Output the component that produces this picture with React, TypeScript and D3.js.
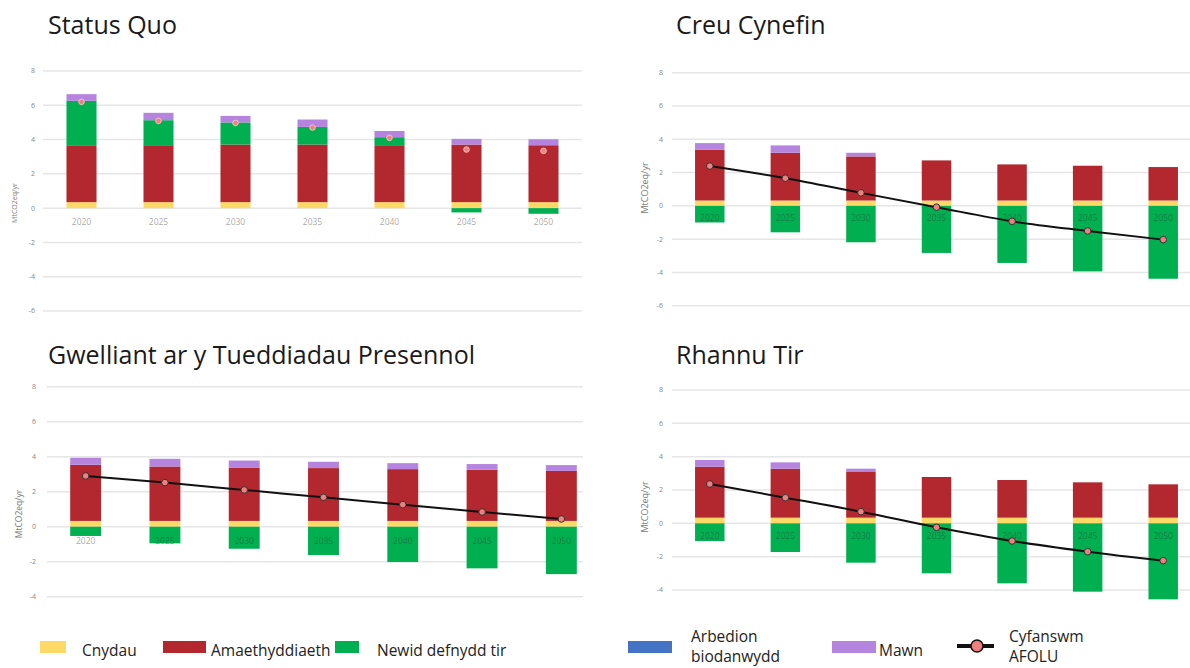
import React from "react";
import * as d3 from "d3";

// years on the x axis
const years = ["2020", "2025", "2030", "2035", "2040", "2045", "2050"];

// series keys in stacking order
const seriesKeys = ["cnydau", "amaeth", "newid", "biodanwydd", "mawn"];
const seriesNames = ["Cnydau", "Amaethyddiaeth", "Newid defnydd tir", "Arbedion biodanwydd", "Mawn"];
const seriesColors = ["#ffd966", "#b2282e", "#00b050", "#4472c4", "#b484de"];
const totalName = "Cyfanswm AFOLU";

// Status Quo
const sqCnydau = [0.35, 0.35, 0.35, 0.35, 0.35, 0.35, 0.35];
const sqAmaeth = [3.28, 3.32, 3.36, 3.36, 3.32, 3.36, 3.32];
const sqNewid = [2.63, 1.46, 1.29, 1.03, 0.47, -0.25, -0.33];
const sqBio = [0, 0, 0, 0, 0, 0, 0];
const sqMawn = [0.39, 0.43, 0.38, 0.43, 0.36, 0.33, 0.35];
const sqTotal = [6.2, 5.09, 4.97, 4.7, 4.1, 3.42, 3.34];

// Creu Cynefin
const ccCnydau = [0.32, 0.32, 0.32, 0.32, 0.32, 0.32, 0.32];
const ccAmaeth = [3.05, 2.87, 2.65, 2.41, 2.17, 2.09, 2.01];
const ccNewid = [-1.0, -1.59, -2.19, -2.83, -3.43, -3.94, -4.38];
const ccBio = [0, 0, 0, 0, 0, 0, 0];
const ccMawn = [0.4, 0.44, 0.22, 0, 0, 0, 0];
const ccTotal = [2.39, 1.66, 0.78, -0.08, -0.93, -1.51, -2.03];

// Gwelliant ar y Tueddiadau Presennol
const gwCnydau = [0.33, 0.33, 0.33, 0.33, 0.33, 0.33, 0.33];
const gwAmaeth = [3.21, 3.11, 3.05, 3.02, 2.96, 2.92, 2.86];
const gwNewid = [-0.53, -0.95, -1.26, -1.62, -2.02, -2.38, -2.71];
const gwBio = [0, 0, 0, 0, 0, 0, 0];
const gwMawn = [0.4, 0.44, 0.4, 0.36, 0.34, 0.33, 0.33];
const gwTotal = [2.9, 2.52, 2.1, 1.68, 1.26, 0.84, 0.44];

// Rhannu Tir
const rtCnydau = [0.34, 0.34, 0.34, 0.34, 0.34, 0.34, 0.34];
const rtAmaeth = [3.06, 2.94, 2.74, 2.44, 2.26, 2.12, 2.0];
const rtNewid = [-1.06, -1.72, -2.36, -3.0, -3.6, -4.1, -4.56];
const rtBio = [0, 0, 0, 0, 0, 0, 0];
const rtMawn = [0.4, 0.38, 0.2, 0, 0, 0, 0];
const rtTotal = [2.36, 1.54, 0.7, -0.24, -1.06, -1.7, -2.24];

const ticksTop = [-6, -4, -2, 0, 2, 4, 6, 8];
const ticksBottom = [-4, -2, 0, 2, 4, 6, 8];

const FONT = "'Open Sans', sans-serif";

function buildRows(cols: number[][]) {
  return years.map((y, i) => {
    const row: any = { year: y };
    seriesKeys.forEach((k, j) => (row[k] = cols[j][i]));
    return row;
  });
}

const panels = [
  {
    title: "Status Quo", tx: 48, ty: 34,
    rows: buildRows([sqCnydau, sqAmaeth, sqNewid, sqBio, sqMawn]), total: sqTotal,
    ticks: ticksTop, yRange: [311, 71], xRange: [43, 582], grid: [43, 582],
    tickX: 35, lab: [15, 203, 7], yearY: 225, line: false,
  },
  {
    title: "Creu Cynefin", tx: 676, ty: 34,
    rows: buildRows([ccCnydau, ccAmaeth, ccNewid, ccBio, ccMawn]), total: ccTotal,
    ticks: ticksTop, yRange: [305.7, 72.7], xRange: [672, 1201], grid: [672, 1190],
    tickX: 663, lab: [645, 188, 9], yearY: 221, line: true,
  },
  {
    title: "Gwelliant ar y Tueddiadau Presennol", tx: 48, ty: 364,
    rows: buildRows([gwCnydau, gwAmaeth, gwNewid, gwBio, gwMawn]), total: gwTotal,
    ticks: ticksBottom, yRange: [596.7, 386.7], xRange: [46, 601], grid: [47, 583],
    tickX: 36, lab: [19, 514, 8.5], yearY: 544, line: true,
  },
  {
    title: "Rhannu Tir", tx: 676, ty: 364,
    rows: buildRows([rtCnydau, rtAmaeth, rtNewid, rtBio, rtMawn]), total: rtTotal,
    ticks: ticksBottom, yRange: [590, 390], xRange: [672, 1201], grid: [672, 1190],
    tickX: 663, lab: [645, 507, 9], yearY: 539, line: true,
  },
];

function Panel({ p }: { p: any }) {
  const y = d3.scaleLinear().domain([p.ticks[0], 8]).range(p.yRange);
  const x = d3.scaleBand().domain(years).range(p.xRange).paddingInner(0.61).paddingOuter(0.305);
  const stack = d3.stack().keys(seriesKeys).offset(d3.stackOffsetDiverging)(p.rows);
  const cx = (i: number) => (x(years[i]) as number) + x.bandwidth() / 2;
  const line = d3
    .line<number>()
    .x((_, i) => cx(i))
    .y((d) => y(d))
    .curve(d3.curveMonotoneX);

  return (
    <g>
      <text x={p.tx} y={p.ty} fontSize={25} fill="#1a1a1a" fontFamily={FONT}>
        {p.title}
      </text>
      {p.ticks.map((t: number) => (
        <g key={t}>
          <line x1={p.grid[0]} x2={p.grid[1]} y1={y(t)} y2={y(t)} stroke="#e6e6e6" strokeWidth={1.5} />
          <text x={p.tickX} y={y(t)} dy="0.35em" textAnchor="end" fontSize={7} fill="#888" fontFamily={FONT}>
            {t}
          </text>
        </g>
      ))}
      <text
        transform={`translate(${p.lab[0]},${p.lab[1]}) rotate(-90)`}
        textAnchor="middle"
        dy="0.35em"
        fontSize={p.lab[2]}
        fill="#777"
        fontFamily={FONT}
      >
        MtCO2eq/yr
      </text>
      {stack.map((s, j) => (
        <g key={seriesKeys[j]} fill={seriesColors[j]}>
          {s.map((d, i) => (
            <rect
              key={i}
              x={x(years[i])}
              width={x.bandwidth()}
              y={y(Math.max(d[0], d[1]))}
              height={Math.abs(y(d[0]) - y(d[1]))}
            />
          ))}
        </g>
      ))}
      {years.map((yr, i) => (
        <text key={yr} x={cx(i)} y={p.yearY} textAnchor="middle" fontSize={8.5} fill="#333" fillOpacity={0.45} fontFamily={FONT}>
          {yr}
        </text>
      ))}
      {p.line && <path d={line(p.total) as string} fill="none" stroke="#111" strokeWidth={2} />}
      {p.total.map((v: number, i: number) => (
        <circle
          key={i}
          cx={cx(i)}
          cy={y(v)}
          r={p.line ? 3.3 : 2.8}
          fill="#f08080"
          stroke={p.line ? "#333" : "#fbd0d0"}
          strokeWidth={p.line ? 1 : 0.8}
        />
      ))}
    </g>
  );
}

// legend layout
const legendSwatch = [
  [40, 66],
  [163, 206],
  [335, 359],
  [628, 672],
  [832, 876],
];
const legendTextX = [82, 211, 377, 691, 879];

function Legend() {
  return (
    <g fontFamily={FONT} fontSize={15.5} fill="#222">
      {seriesNames.map((name, i) => {
        const words = name.split(" ");
        const twoLine = i === 3;
        return (
          <g key={name}>
            <rect x={legendSwatch[i][0]} y={641} width={legendSwatch[i][1] - legendSwatch[i][0]} height={12} fill={seriesColors[i]} />
            {twoLine ? (
              <text x={legendTextX[i]} y={642}>
                <tspan x={legendTextX[i]}>{words[0]}</tspan>
                <tspan x={legendTextX[i]} dy={20}>{words[1]}</tspan>
              </text>
            ) : (
              <text x={legendTextX[i]} y={656}>{name}</text>
            )}
          </g>
        );
      })}
      <line x1={957} x2={994} y1={646} y2={646} stroke="#111" strokeWidth={4} />
      <circle cx={977} cy={646} r={6} fill="#f08080" stroke="#111" strokeWidth={1.5} />
      <text x={1009} y={642}>
        <tspan x={1009}>{totalName.split(" ")[0]}</tspan>
        <tspan x={1009} dy={20}>{totalName.split(" ")[1]}</tspan>
      </text>
    </g>
  );
}

export default function App() {
  return (
    <svg width={1190} height={668} style={{ position: "absolute", left: 0, top: 0, background: "#fff" }}>
      {panels.map((p) => (
        <Panel key={p.title} p={p} />
      ))}
      <Legend />
    </svg>
  );
}
